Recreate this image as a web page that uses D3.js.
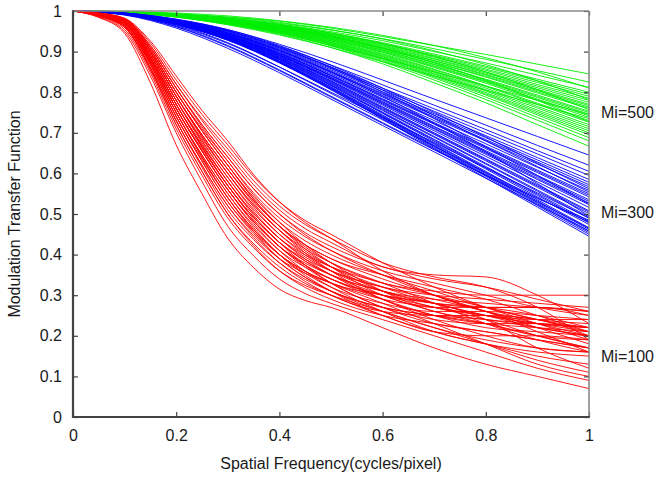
<!DOCTYPE html>
<html>
<head>
<meta charset="utf-8">
<script src="https://cdn.jsdelivr.net/npm/d3@7"></script>
<style>
  html, body { margin: 0; padding: 0; background: #fff; }
  svg { display: block; font-family: "Liberation Sans", Arial, Helvetica, sans-serif; }
</style>
</head>
<body>
<svg id="chart" width="657" height="479"></svg>
<script>
// Spatial frequencies (cycles/pixel) at which the MTF curves are sampled
const freqHigh = [0, 0.1, 0.2, 0.3, 0.4, 0.5, 0.6, 0.7, 0.8, 0.9, 1.0];
const freqLow = [0, 0.05, 0.1, 0.15, 0.2, 0.25, 0.3, 0.35, 0.4, 0.45, 0.5, 0.6, 0.7, 0.8, 0.9, 1.0];

// Axis ticks
const xTicks = [0, 0.2, 0.4, 0.6, 0.8, 1];
const xTickLabels = ["0", "0.2", "0.4", "0.6", "0.8", "1"];
const yTicks = [0, 0.1, 0.2, 0.3, 0.4, 0.5, 0.6, 0.7, 0.8, 0.9, 1];
const yTickLabels = ["0", "0.1", "0.2", "0.3", "0.4", "0.5", "0.6", "0.7", "0.8", "0.9", "1"];

// Series names and the MTF level each name sits beside at the right edge
const seriesNames = ["Mi=500", "Mi=300", "Mi=100"];
const seriesLabelLevels = [0.75, 0.505, 0.15];

// MTF curves, Mi = 500 (sampled on freqHigh)
const mi500 = [
  [1, 0.998, 0.993, 0.985, 0.975, 0.958, 0.937, 0.915, 0.893, 0.869, 0.845],
  [1, 0.998, 0.992, 0.983, 0.970, 0.953, 0.932, 0.907, 0.881, 0.853, 0.825],
  [1, 0.998, 0.992, 0.981, 0.968, 0.949, 0.927, 0.900, 0.872, 0.842, 0.812],
  [1, 0.999, 0.995, 0.988, 0.976, 0.960, 0.940, 0.915, 0.885, 0.850, 0.810],
  [1, 0.998, 0.991, 0.980, 0.966, 0.946, 0.922, 0.894, 0.864, 0.832, 0.800],
  [1, 0.998, 0.991, 0.979, 0.965, 0.945, 0.920, 0.891, 0.861, 0.828, 0.795],
  [1, 0.997, 0.991, 0.979, 0.964, 0.943, 0.918, 0.889, 0.857, 0.824, 0.790],
  [1, 0.997, 0.990, 0.978, 0.963, 0.942, 0.916, 0.886, 0.854, 0.819, 0.785],
  [1, 0.998, 0.993, 0.985, 0.972, 0.954, 0.931, 0.902, 0.868, 0.828, 0.782],
  [1, 0.997, 0.990, 0.978, 0.963, 0.941, 0.914, 0.883, 0.850, 0.815, 0.780],
  [1, 0.997, 0.990, 0.977, 0.962, 0.939, 0.912, 0.881, 0.847, 0.811, 0.775],
  [1, 0.997, 0.990, 0.977, 0.961, 0.938, 0.910, 0.878, 0.844, 0.807, 0.770],
  [1, 0.997, 0.987, 0.968, 0.945, 0.915, 0.883, 0.850, 0.815, 0.780, 0.745],
  [1, 0.997, 0.990, 0.977, 0.960, 0.937, 0.909, 0.877, 0.842, 0.804, 0.767],
  [1, 0.997, 0.989, 0.976, 0.960, 0.936, 0.908, 0.874, 0.839, 0.801, 0.763],
  [1, 0.997, 0.989, 0.976, 0.959, 0.935, 0.906, 0.873, 0.837, 0.798, 0.760],
  [1, 0.998, 0.992, 0.982, 0.967, 0.946, 0.920, 0.888, 0.850, 0.806, 0.757],
  [1, 0.997, 0.989, 0.975, 0.958, 0.933, 0.904, 0.869, 0.832, 0.793, 0.753],
  [1, 0.997, 0.989, 0.975, 0.958, 0.933, 0.903, 0.868, 0.830, 0.790, 0.750],
  [1, 0.996, 0.985, 0.966, 0.941, 0.910, 0.875, 0.840, 0.805, 0.770, 0.735],
  [1, 0.997, 0.989, 0.975, 0.957, 0.931, 0.901, 0.865, 0.827, 0.787, 0.746],
  [1, 0.997, 0.988, 0.974, 0.956, 0.930, 0.899, 0.863, 0.825, 0.783, 0.742],
  [1, 0.997, 0.988, 0.974, 0.955, 0.929, 0.898, 0.861, 0.822, 0.780, 0.738],
  [1, 0.998, 0.991, 0.979, 0.962, 0.938, 0.908, 0.872, 0.829, 0.780, 0.727],
  [1, 0.997, 0.988, 0.973, 0.954, 0.927, 0.895, 0.857, 0.816, 0.773, 0.730],
  [1, 0.997, 0.988, 0.973, 0.953, 0.926, 0.893, 0.855, 0.814, 0.770, 0.726],
  [1, 0.997, 0.987, 0.972, 0.952, 0.924, 0.891, 0.852, 0.810, 0.765, 0.720],
  [1, 0.997, 0.987, 0.972, 0.952, 0.923, 0.889, 0.849, 0.806, 0.761, 0.715],
  [1, 0.997, 0.987, 0.971, 0.951, 0.922, 0.887, 0.846, 0.803, 0.756, 0.710],
  [1, 0.996, 0.987, 0.971, 0.950, 0.920, 0.885, 0.844, 0.799, 0.752, 0.705],
  [1, 0.996, 0.987, 0.970, 0.949, 0.919, 0.883, 0.841, 0.796, 0.748, 0.700],
  [1, 0.996, 0.986, 0.970, 0.948, 0.918, 0.881, 0.838, 0.793, 0.744, 0.695],
  [1, 0.996, 0.986, 0.969, 0.947, 0.916, 0.878, 0.835, 0.788, 0.738, 0.688],
  [1, 0.996, 0.986, 0.968, 0.946, 0.914, 0.875, 0.830, 0.782, 0.731, 0.680],
  [1, 0.996, 0.985, 0.967, 0.943, 0.910, 0.870, 0.823, 0.774, 0.720, 0.667]
];

// MTF curves, Mi = 300 (sampled on freqHigh)
const mi300 = [
  [1, 0.995, 0.979, 0.954, 0.918, 0.876, 0.830, 0.783, 0.737, 0.691, 0.645],
  [1, 0.994, 0.977, 0.951, 0.913, 0.867, 0.818, 0.768, 0.719, 0.669, 0.620],
  [1, 0.994, 0.976, 0.949, 0.909, 0.862, 0.810, 0.759, 0.708, 0.656, 0.605],
  [1, 0.994, 0.976, 0.947, 0.907, 0.858, 0.806, 0.753, 0.700, 0.648, 0.595],
  [1, 0.994, 0.975, 0.946, 0.905, 0.855, 0.801, 0.747, 0.693, 0.639, 0.585],
  [1, 0.994, 0.975, 0.945, 0.903, 0.852, 0.797, 0.743, 0.688, 0.633, 0.578],
  [1, 0.994, 0.974, 0.944, 0.902, 0.850, 0.795, 0.739, 0.683, 0.628, 0.572],
  [1, 0.994, 0.974, 0.944, 0.900, 0.848, 0.792, 0.736, 0.680, 0.623, 0.567],
  [1, 0.995, 0.980, 0.954, 0.915, 0.866, 0.810, 0.750, 0.690, 0.625, 0.562],
  [1, 0.993, 0.973, 0.943, 0.898, 0.845, 0.788, 0.730, 0.673, 0.615, 0.558],
  [1, 0.995, 0.979, 0.952, 0.912, 0.862, 0.805, 0.743, 0.680, 0.617, 0.554],
  [1, 0.993, 0.973, 0.941, 0.896, 0.842, 0.784, 0.725, 0.667, 0.608, 0.550],
  [1, 0.993, 0.973, 0.941, 0.896, 0.841, 0.782, 0.723, 0.664, 0.605, 0.546],
  [1, 0.993, 0.973, 0.940, 0.895, 0.840, 0.780, 0.721, 0.661, 0.602, 0.542],
  [1, 0.995, 0.978, 0.950, 0.910, 0.860, 0.800, 0.735, 0.665, 0.595, 0.525],
  [1, 0.993, 0.972, 0.940, 0.893, 0.837, 0.777, 0.716, 0.656, 0.595, 0.535],
  [1, 0.993, 0.972, 0.939, 0.892, 0.836, 0.775, 0.714, 0.653, 0.592, 0.531],
  [1, 0.993, 0.972, 0.939, 0.891, 0.834, 0.773, 0.711, 0.650, 0.588, 0.527],
  [1, 0.993, 0.971, 0.938, 0.890, 0.833, 0.771, 0.709, 0.647, 0.585, 0.523],
  [1, 0.992, 0.964, 0.920, 0.862, 0.800, 0.738, 0.676, 0.614, 0.552, 0.490],
  [1, 0.993, 0.971, 0.937, 0.889, 0.831, 0.768, 0.705, 0.642, 0.579, 0.516],
  [1, 0.991, 0.962, 0.915, 0.855, 0.790, 0.725, 0.660, 0.595, 0.530, 0.465],
  [1, 0.993, 0.970, 0.936, 0.887, 0.828, 0.764, 0.700, 0.636, 0.572, 0.508],
  [1, 0.993, 0.970, 0.936, 0.886, 0.827, 0.762, 0.698, 0.634, 0.569, 0.505],
  [1, 0.993, 0.970, 0.935, 0.885, 0.825, 0.760, 0.696, 0.631, 0.566, 0.501],
  [1, 0.990, 0.958, 0.908, 0.848, 0.783, 0.718, 0.653, 0.588, 0.523, 0.458],
  [1, 0.992, 0.970, 0.934, 0.883, 0.823, 0.757, 0.691, 0.625, 0.559, 0.493],
  [1, 0.992, 0.969, 0.934, 0.883, 0.821, 0.755, 0.689, 0.623, 0.556, 0.490],
  [1, 0.994, 0.976, 0.946, 0.903, 0.850, 0.790, 0.724, 0.653, 0.575, 0.495],
  [1, 0.992, 0.969, 0.933, 0.881, 0.819, 0.751, 0.684, 0.617, 0.549, 0.482],
  [1, 0.992, 0.969, 0.932, 0.880, 0.817, 0.749, 0.682, 0.614, 0.546, 0.478],
  [1, 0.992, 0.968, 0.932, 0.879, 0.816, 0.748, 0.679, 0.611, 0.542, 0.474],
  [1, 0.992, 0.966, 0.922, 0.862, 0.797, 0.732, 0.667, 0.602, 0.540, 0.480],
  [1, 0.992, 0.968, 0.931, 0.877, 0.813, 0.744, 0.674, 0.605, 0.535, 0.466],
  [1, 0.992, 0.968, 0.930, 0.876, 0.812, 0.742, 0.672, 0.602, 0.532, 0.462],
  [1, 0.992, 0.967, 0.930, 0.875, 0.810, 0.740, 0.669, 0.599, 0.528, 0.458],
  [1, 0.992, 0.967, 0.929, 0.874, 0.809, 0.738, 0.667, 0.596, 0.525, 0.454],
  [1, 0.992, 0.967, 0.928, 0.873, 0.807, 0.736, 0.664, 0.593, 0.521, 0.450],
  [1, 0.992, 0.967, 0.928, 0.872, 0.806, 0.734, 0.661, 0.589, 0.517, 0.445],
  [1, 0.991, 0.961, 0.913, 0.853, 0.788, 0.723, 0.658, 0.596, 0.538, 0.485]
];

// MTF curves, Mi = 100 (sampled on freqLow, finer where the curves fall fastest)
const mi100 = [
  [1, 0.984, 0.945, 0.823, 0.67, 0.550, 0.44, 0.368, 0.315, 0.287, 0.27, 0.22, 0.17, 0.13, 0.10, 0.07],
  [1, 0.985, 0.950, 0.840, 0.70, 0.580, 0.47, 0.397, 0.34, 0.304, 0.28, 0.24, 0.20, 0.16, 0.12, 0.09],
  [1, 0.987, 0.955, 0.848, 0.71, 0.595, 0.49, 0.417, 0.36, 0.324, 0.30, 0.26, 0.22, 0.18, 0.14, 0.11],
  [1, 0.988, 0.960, 0.855, 0.72, 0.605, 0.50, 0.422, 0.36, 0.319, 0.29, 0.25, 0.23, 0.21, 0.19, 0.17],
  [1, 0.988, 0.960, 0.860, 0.73, 0.615, 0.51, 0.437, 0.38, 0.339, 0.31, 0.27, 0.25, 0.24, 0.22, 0.20],
  [1, 0.988, 0.960, 0.860, 0.73, 0.620, 0.52, 0.447, 0.39, 0.354, 0.33, 0.29, 0.27, 0.25, 0.23, 0.21],
  [1, 0.990, 0.965, 0.868, 0.74, 0.630, 0.53, 0.452, 0.39, 0.344, 0.31, 0.26, 0.22, 0.19, 0.17, 0.16],
  [1, 0.990, 0.965, 0.868, 0.74, 0.635, 0.54, 0.462, 0.40, 0.359, 0.33, 0.30, 0.28, 0.27, 0.25, 0.22],
  [1, 0.990, 0.965, 0.873, 0.75, 0.640, 0.54, 0.462, 0.40, 0.354, 0.32, 0.28, 0.26, 0.26, 0.25, 0.24],
  [1, 0.990, 0.965, 0.873, 0.75, 0.645, 0.55, 0.472, 0.41, 0.369, 0.34, 0.30, 0.27, 0.24, 0.20, 0.17],
  [1, 0.991, 0.970, 0.875, 0.75, 0.645, 0.55, 0.467, 0.40, 0.349, 0.31, 0.25, 0.21, 0.18, 0.16, 0.15],
  [1, 0.991, 0.970, 0.880, 0.76, 0.655, 0.56, 0.482, 0.42, 0.379, 0.35, 0.31, 0.29, 0.28, 0.27, 0.26],
  [1, 0.991, 0.970, 0.880, 0.76, 0.655, 0.56, 0.482, 0.42, 0.374, 0.34, 0.29, 0.25, 0.22, 0.21, 0.20],
  [1, 0.991, 0.970, 0.880, 0.76, 0.660, 0.57, 0.492, 0.43, 0.389, 0.36, 0.32, 0.29, 0.26, 0.22, 0.18],
  [1, 0.991, 0.970, 0.885, 0.77, 0.665, 0.57, 0.492, 0.43, 0.384, 0.35, 0.30, 0.26, 0.23, 0.20, 0.19],
  [1, 0.991, 0.970, 0.885, 0.77, 0.670, 0.58, 0.502, 0.44, 0.399, 0.37, 0.33, 0.30, 0.27, 0.24, 0.21],
  [1, 0.991, 0.970, 0.885, 0.77, 0.670, 0.58, 0.502, 0.44, 0.389, 0.35, 0.29, 0.24, 0.20, 0.17, 0.16],
  [1, 0.992, 0.972, 0.891, 0.78, 0.680, 0.59, 0.512, 0.45, 0.404, 0.37, 0.32, 0.28, 0.25, 0.23, 0.22],
  [1, 0.992, 0.972, 0.891, 0.78, 0.680, 0.59, 0.507, 0.44, 0.394, 0.36, 0.32, 0.30, 0.29, 0.28, 0.27],
  [1, 0.992, 0.972, 0.891, 0.78, 0.685, 0.60, 0.522, 0.46, 0.414, 0.38, 0.33, 0.28, 0.23, 0.19, 0.16],
  [1, 0.993, 0.975, 0.898, 0.79, 0.690, 0.60, 0.522, 0.46, 0.409, 0.37, 0.31, 0.27, 0.25, 0.24, 0.24],
  [1, 0.993, 0.975, 0.898, 0.79, 0.695, 0.61, 0.532, 0.47, 0.424, 0.39, 0.35, 0.32, 0.29, 0.25, 0.21],
  [1, 0.993, 0.975, 0.898, 0.79, 0.695, 0.61, 0.527, 0.46, 0.404, 0.36, 0.29, 0.25, 0.23, 0.22, 0.21],
  [1, 0.993, 0.975, 0.903, 0.80, 0.705, 0.62, 0.542, 0.48, 0.434, 0.40, 0.35, 0.31, 0.27, 0.24, 0.22],
  [1, 0.993, 0.978, 0.904, 0.80, 0.705, 0.62, 0.537, 0.47, 0.419, 0.38, 0.33, 0.31, 0.30, 0.30, 0.30],
  [1, 0.993, 0.978, 0.904, 0.80, 0.710, 0.63, 0.552, 0.49, 0.444, 0.41, 0.36, 0.33, 0.30, 0.27, 0.25],
  [1, 0.993, 0.978, 0.909, 0.81, 0.720, 0.64, 0.562, 0.50, 0.454, 0.42, 0.37, 0.34, 0.32, 0.29, 0.26],
  [1, 0.994, 0.980, 0.910, 0.81, 0.720, 0.64, 0.562, 0.50, 0.449, 0.41, 0.35, 0.30, 0.26, 0.23, 0.20],
  [1, 0.994, 0.980, 0.915, 0.82, 0.730, 0.65, 0.572, 0.51, 0.464, 0.43, 0.37, 0.35, 0.345, 0.30, 0.23],
  [1, 0.994, 0.980, 0.915, 0.82, 0.735, 0.66, 0.582, 0.52, 0.474, 0.44, 0.38, 0.345, 0.32, 0.27, 0.19],
  [1, 0.995, 0.982, 0.921, 0.83, 0.745, 0.67, 0.592, 0.53, 0.484, 0.45, 0.38, 0.32, 0.27, 0.23, 0.19],
  [1, 0.995, 0.982, 0.926, 0.84, 0.755, 0.68, 0.597, 0.53, 0.479, 0.44, 0.36, 0.30, 0.26, 0.24, 0.23],
  [1, 0.990, 0.965, 0.868, 0.74, 0.630, 0.53, 0.457, 0.40, 0.359, 0.33, 0.28, 0.23, 0.18, 0.13, 0.10],
  [1, 0.991, 0.970, 0.880, 0.76, 0.655, 0.56, 0.482, 0.42, 0.374, 0.34, 0.30, 0.28, 0.24, 0.17, 0.12],
  [1, 0.988, 0.960, 0.855, 0.72, 0.605, 0.50, 0.427, 0.37, 0.329, 0.30, 0.25, 0.21, 0.20, 0.20, 0.19],
  [1, 0.993, 0.975, 0.893, 0.78, 0.675, 0.58, 0.497, 0.43, 0.374, 0.33, 0.27, 0.23, 0.21, 0.19, 0.17],
  [1, 0.991, 0.970, 0.885, 0.77, 0.665, 0.57, 0.487, 0.42, 0.369, 0.33, 0.27, 0.24, 0.23, 0.23, 0.22],
  [1, 0.993, 0.975, 0.898, 0.79, 0.690, 0.60, 0.517, 0.45, 0.399, 0.36, 0.31, 0.28, 0.27, 0.27, 0.26],
  [1, 0.990, 0.968, 0.874, 0.75, 0.640, 0.54, 0.457, 0.39, 0.344, 0.31, 0.27, 0.25, 0.23, 0.20, 0.17],
  [1, 0.992, 0.972, 0.886, 0.77, 0.665, 0.57, 0.492, 0.43, 0.384, 0.35, 0.31, 0.28, 0.25, 0.22, 0.20],
  [1, 0.994, 0.980, 0.910, 0.81, 0.715, 0.63, 0.547, 0.48, 0.424, 0.38, 0.31, 0.26, 0.24, 0.23, 0.22],
  [1, 0.989, 0.962, 0.861, 0.73, 0.620, 0.52, 0.442, 0.38, 0.334, 0.30, 0.26, 0.25, 0.25, 0.24, 0.20],
  [1, 0.993, 0.975, 0.898, 0.79, 0.695, 0.61, 0.532, 0.47, 0.424, 0.39, 0.34, 0.30, 0.26, 0.21, 0.16],
  [1, 0.991, 0.970, 0.880, 0.76, 0.655, 0.56, 0.477, 0.41, 0.359, 0.32, 0.26, 0.21, 0.18, 0.15, 0.13],
  [1, 0.993, 0.978, 0.904, 0.80, 0.705, 0.62, 0.537, 0.47, 0.414, 0.37, 0.30, 0.27, 0.27, 0.27, 0.25]
];

const groups = [
  { name: seriesNames[0], curves: mi500, freq: freqHigh, color: "#00ee00", level: seriesLabelLevels[0] },
  { name: seriesNames[1], curves: mi300, freq: freqHigh, color: "#0000ff", level: seriesLabelLevels[1] },
  { name: seriesNames[2], curves: mi100, freq: freqLow, color: "#ff0000", level: seriesLabelLevels[2] }
];

const width = 657, height = 479;
const margin = { top: 11, right: 68, bottom: 62, left: 73 };
const innerW = width - margin.left - margin.right;
const innerH = height - margin.top - margin.bottom;

const svg = d3.select("#chart");
const g = svg.append("g").attr("transform", `translate(${margin.left},${margin.top})`);

const x = d3.scaleLinear().domain([0, 1]).range([0, innerW]);
const y = d3.scaleLinear().domain([0, 1]).range([innerH, 0]);

// Curves: a smooth monotone cubic through each sampled MTF
const curveLayer = g.append("g").attr("fill", "none");
groups.forEach(grp => {
  const line = d3.line()
    .x((d, i) => x(grp.freq[i]))
    .y(d => y(d))
    .curve(d3.curveMonotoneX);
  curveLayer.append("g")
    .attr("stroke", grp.color)
    .attr("stroke-width", 1)
    .attr("stroke-opacity", 0.9)
    .selectAll("path")
    .data(grp.curves)
    .join("path")
    .attr("d", line);
});

// Axes (ticks point inward on all four sides)
const fontSize = 16;
const styleAxis = (sel, labels) => {
  sel.select(".domain").remove();
  sel.selectAll(".tick line").attr("stroke", "#444").attr("stroke-width", 1.2);
  sel.selectAll(".tick text")
    .attr("fill", "#1a1a1a")
    .style("font-size", fontSize + "px")
    .style("font-family", '"Liberation Sans", Arial, sans-serif');
  if (!labels) sel.selectAll(".tick text").remove();
};

g.append("g")
  .attr("transform", `translate(0,${innerH})`)
  .call(d3.axisBottom(x).tickValues(xTicks).tickFormat((d, i) => xTickLabels[i])
    .tickSizeInner(-5).tickSizeOuter(0).tickPadding(13))
  .call(s => styleAxis(s, true));

g.append("g")
  .call(d3.axisLeft(y).tickValues(yTicks).tickFormat((d, i) => yTickLabels[i])
    .tickSizeInner(-5).tickSizeOuter(0).tickPadding(11))
  .call(s => styleAxis(s, true));

g.append("g")
  .call(d3.axisTop(x).tickValues(xTicks).tickSizeInner(-5).tickSizeOuter(0))
  .call(s => styleAxis(s, false));

g.append("g")
  .attr("transform", `translate(${innerW},0)`)
  .call(d3.axisRight(y).tickValues(yTicks).tickSizeInner(-5).tickSizeOuter(0))
  .call(s => styleAxis(s, false));

// Frame: darker left/bottom, lighter top/right
const frame = g.append("g").attr("fill", "none");
frame.append("line").attr("x1", 0).attr("x2", innerW).attr("y1", 0).attr("y2", 0)
  .attr("stroke", "#8a8a8a").attr("stroke-width", 1.6);
frame.append("line").attr("x1", innerW).attr("x2", innerW).attr("y1", 0).attr("y2", innerH)
  .attr("stroke", "#8a8a8a").attr("stroke-width", 1.6);
frame.append("line").attr("x1", 0).attr("x2", 0).attr("y1", -0.8).attr("y2", innerH + 1)
  .attr("stroke", "#444").attr("stroke-width", 2.2);
frame.append("line").attr("x1", -1).attr("x2", innerW + 0.8).attr("y1", innerH).attr("y2", innerH)
  .attr("stroke", "#444").attr("stroke-width", 2.2);

// Series labels at the right edge
g.append("g")
  .selectAll("text")
  .data(groups)
  .join("text")
  .attr("x", innerW + 12)
  .attr("y", d => y(d.level))
  .attr("dy", "0.35em")
  .attr("fill", "#1a1a1a")
  .style("font-size", fontSize + "px")
  .text(d => d.name);

// Axis titles
svg.append("text")
  .attr("x", margin.left + innerW / 2)
  .attr("y", 469)
  .attr("text-anchor", "middle")
  .attr("fill", "#1a1a1a")
  .style("font-size", fontSize + "px")
  .text("Spatial Frequency(cycles/pixel)");

svg.append("text")
  .attr("transform", `translate(20,${margin.top + innerH / 2}) rotate(-90)`)
  .attr("text-anchor", "middle")
  .attr("fill", "#1a1a1a")
  .style("font-size", fontSize + "px")
  .text("Modulation Transfer Function");
</script>
</body>
</html>
